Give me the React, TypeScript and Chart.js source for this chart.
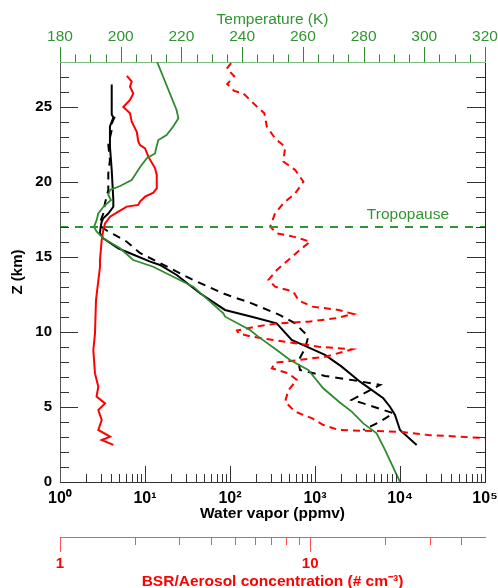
import { useEffect, useRef } from 'react';
import { Chart, registerables } from 'chart.js';

Chart.register(...registerables);

const FONT = "'Liberation Sans', Arial, Helvetica, sans-serif";

// ---- axis ranges / tick labels ----
const Z_MIN = 0;
const Z_MAX = 28;
const WV_MIN = 1;
const WV_MAX = 1e5;
const T_MIN = 180;
const T_MAX = 320;
const BSR_MIN = 1;
const BSR_MAX = 50;
const SUPERSCRIPTS = ['⁰', '¹', '²', '³', '⁴', '⁵'];
const BSR_LABELS = [1, 10];
const TROPOPAUSE_KM = 17;

// ---- water vapor (solid black) ----
const wvSolidZ = [26.5, 24.5, 24.3, 23.7, 22.35, 20.8, 18.8, 18.35, 17.9, 17.58, 17.35, 17.0, 16.58, 16.24, 15.58, 15.25, 14.69, 14.47, 13.8, 12.58, 11.47, 11.02, 10.58, 9.47, 9.07, 8.47, 7.69, 6.69, 5.58, 5.02, 4.47, 3.47, 2.47];
const wvSolidPpmv = [4.06, 4.06, 4.24, 3.87, 3.87, 4.06, 4.24, 4.24, 3.7, 3.23, 3.09, 3.01, 2.95, 3.23, 4.85, 6.66, 11.5, 15.0, 23.6, 44.4, 87.3, 180, 354, 532, 763, 1312, 2060, 3385, 6360, 7620, 8730, 10000, 15700];

// ---- water vapor (dashed black) ----
const wvDashedZ = [24.35, 23.9, 23.47, 22.47, 21.47, 20.58, 19.47, 18.58, 17.9, 17.4, 17.0, 16.69, 16.47, 16.02, 15.27, 14.6, 13.47, 12.53, 11.91, 11.13, 10.58, 9.69, 8.91, 8.07, 7.47, 7.07, 6.73, 6.47, 5.47, 5.24, 4.58, 4.02, 3.47];
const wvDashedPpmv = [4.4, 4.06, 4.06, 3.7, 3.87, 3.7, 3.7, 3.38, 3.23, 3.0, 3.1, 3.7, 4.4, 6.1, 8.7, 15, 36.7, 87, 180, 387, 582, 834, 763, 636, 666, 1312, 3230, 5820, 2700, 3700, 8340, 5820, 3700];

// ---- temperature (green) ----
const tempZ = [28.0, 24.8, 24.25, 23.7, 23.13, 22.8, 22.35, 21.9, 21.58, 21.0, 20.47, 20.13, 19.73, 19.47, 19.13, 18.8, 18.35, 17.9, 17.47, 17.0, 16.69, 16.24, 15.58, 14.8, 14.35, 13.02, 11.25, 11.02, 10.13, 9.69, 8.8, 8.13, 7.47, 6.25, 5.3, 4.69, 3.91, 3.24, 2.13, 0];
const tempK = [212.0, 218.4, 219.0, 217.3, 215.1, 212.4, 211.8, 211.3, 208.6, 206.4, 204.7, 203.6, 199.8, 196.5, 195.9, 196.8, 194.3, 192.6, 192.1, 191.2, 192.1, 194.3, 199.8, 204.1, 210.7, 223.9, 233.8, 234.4, 242.6, 245.3, 251.4, 255.8, 261.8, 266.7, 272.2, 276.1, 279.9, 284.3, 287.1, 292.0];

// ---- BSR (solid red) ----
const bsrZ = [27.07, 26.7, 26.35, 25.9, 25.47, 25.0, 24.58, 24.02, 23.35, 22.69, 22.47, 22.24, 21.69, 20.91, 20.47, 19.58, 19.29, 19.02, 18.69, 18.47, 18.36, 18.02, 17.69, 17.24, 16.8, 16.13, 14.8, 14.35, 12.13, 9.9, 8.8, 7.24, 6.35, 5.69, 5.24, 4.8, 4.13, 3.47, 3.02, 2.8, 2.47];
const bsrVal = [1.85, 1.935, 1.905, 1.964, 1.905, 1.791, 1.905, 1.935, 2.027, 2.057, 2.089, 2.188, 2.255, 2.399, 2.437, 2.437, 2.362, 2.188, 2.089, 2.057, 1.85, 1.711, 1.585, 1.514, 1.49, 1.468, 1.445, 1.445, 1.393, 1.38, 1.359, 1.38, 1.423, 1.40, 1.514, 1.423, 1.468, 1.423, 1.585, 1.468, 1.634];

// ---- aerosol concentration (dashed red) ----
const aeroZ = [27.93, 27.55, 27.07, 26.53, 26.07, 25.9, 25.13, 24.58, 23.69, 22.91, 22.35, 21.36, 20.8, 20.02, 19.24, 18.58, 17.91, 17.02, 16.58, 16.36, 16.02, 15.58, 14.91, 14.13, 13.47, 13.02, 12.69, 12.1, 11.69, 11.47, 11.2, 10.91, 10.69, 10.58, 10.35, 10.1, 9.91, 9.69, 9.35, 9.02, 8.84, 8.35, 8.13, 7.95, 7.58, 7.24, 6.8, 6.13, 5.35, 4.69, 4.24, 3.8, 3.47, 3.42, 3.35, 3.13, 2.93];
const aeroVal = [4.83, 4.64, 4.97, 4.66, 4.97, 5.41, 6.03, 6.56, 6.71, 7.24, 7.94, 7.82, 8.71, 9.4, 8.71, 7.82, 7.24, 6.92, 7.36, 8.57, 10.0, 9.26, 8.32, 7.36, 6.81, 7.24, 8.57, 9.0, 10.2, 13.0, 14.9, 12.6, 9.84, 7.47, 6.03, 5.1, 5.17, 5.84, 7.94, 10.8, 14.7, 11.5, 8.98, 7.24, 7.03, 8.19, 8.85, 8.19, 7.94, 8.71, 10.2, 11.3, 13.0, 16.1, 22.9, 29.7, 50.1];

const GREEN = '#2e8b2e';
const GREEN_TEXT = '#2f962f';
const RED = '#ff0000';

function pts(xs: number[], zs: number[]) {
  return zs.map((z, i) => ({ x: xs[i], y: z }));
}

const isDecade = (v: number) => {
  const l = Math.log10(v);
  return Math.abs(l - Math.round(l)) < 1e-9;
};

const decorPlugin = {
  id: 'decor',
  afterDraw(chart: any) {
    const { ctx, chartArea: a, scales } = chart;
    const ys = scales.y;
    const xs = scales.x;
    const xt = scales.xT;
    const xb = scales.xB;
    const seg = (x1: number, y1: number, x2: number, y2: number) => {
      ctx.moveTo(x1, y1);
      ctx.lineTo(x2, y2);
    };
    ctx.save();
    ctx.lineWidth = 1;

    // Z ticks, both sides, inward
    ctx.strokeStyle = '#333';
    ctx.beginPath();
    for (let z = Z_MIN + 1; z < Z_MAX; z++) {
      const p = Math.round(ys.getPixelForValue(z)) + 0.5;
      const len = z % 5 === 0 ? 18 : 9;
      seg(a.left, p, a.left + len, p);
      seg(a.right, p, a.right - len, p);
    }
    ctx.stroke();

    // water vapor ticks, inward
    ctx.beginPath();
    for (let d = 0; d < 5; d++) {
      for (let m = 1; m <= 9; m++) {
        if (d === 0 && m === 1) continue;
        const p = Math.round(xs.getPixelForValue(m * Math.pow(10, d))) + 0.5;
        seg(p, a.bottom, p, a.bottom - (m === 1 ? 16 : 8));
      }
    }
    ctx.stroke();

    // temperature ticks, outward (up)
    ctx.strokeStyle = GREEN;
    ctx.beginPath();
    for (let t = T_MIN; t <= T_MAX; t += 5) {
      const p = Math.round(xt.getPixelForValue(t)) + 0.5;
      seg(p, a.top, p, a.top - (t % 20 === 0 ? 15 : 7.5));
    }
    ctx.stroke();

    // BSR ticks, downward
    ctx.strokeStyle = '#ff5050';
    ctx.beginPath();
    const top = xb.top;
    const bsrTicks = [1, 2, 3, 4, 5, 6, 7, 8, 9, 10, 20, 30, 40];
    for (const v of bsrTicks) {
      const p = Math.round(xb.getPixelForValue(v)) + 0.5;
      seg(p, top, p, top + (v === 1 || v === 10 ? 15 : 8));
    }
    ctx.stroke();

    // Tropopause label
    ctx.fillStyle = GREEN_TEXT;
    ctx.font = `15.5px ${FONT}`;
    ctx.textAlign = 'center';
    ctx.textBaseline = 'alphabetic';
    ctx.fillText('Tropopause', xs.getPixelForValue(12400), ys.getPixelForValue(TROPOPAUSE_KM) - 8);
    ctx.restore();
  },
};

export default function App() {
  const ref = useRef<HTMLCanvasElement>(null);

  useEffect(() => {
    const canvas = ref.current;
    if (!canvas) return;
    const noGrid = { display: false, drawTicks: false };
    const chart = new Chart(canvas, {
      type: 'scatter',
      data: {
        datasets: [
          {
            label: 'Tropopause',
            data: [{ x: WV_MIN, y: TROPOPAUSE_KM }, { x: WV_MAX, y: TROPOPAUSE_KM }],
            xAxisID: 'x',
            yAxisID: 'y',
            borderColor: GREEN_TEXT,
            borderWidth: 2,
            borderDash: [8, 7],
            showLine: true,
            pointRadius: 0,
          },
          {
            label: 'Temperature',
            data: pts(tempK, tempZ),
            xAxisID: 'xT',
            yAxisID: 'y',
            borderColor: GREEN,
            borderWidth: 1.8,
            showLine: true,
            pointRadius: 0,
          },
          {
            label: 'BSR',
            data: pts(bsrVal, bsrZ),
            xAxisID: 'xB',
            yAxisID: 'y',
            borderColor: RED,
            borderWidth: 2,
            showLine: true,
            pointRadius: 0,
          },
          {
            label: 'Aerosol',
            data: pts(aeroVal, aeroZ),
            xAxisID: 'xB',
            yAxisID: 'y',
            borderColor: RED,
            borderWidth: 2,
            borderDash: [7, 5],
            showLine: true,
            pointRadius: 0,
          },
          {
            label: 'WV dashed',
            data: pts(wvDashedPpmv, wvDashedZ),
            xAxisID: 'x',
            yAxisID: 'y',
            borderColor: '#000',
            borderWidth: 2,
            borderDash: [8, 6],
            showLine: true,
            pointRadius: 0,
          },
          {
            label: 'WV',
            data: pts(wvSolidPpmv, wvSolidZ),
            xAxisID: 'x',
            yAxisID: 'y',
            borderColor: '#000',
            borderWidth: 2,
            showLine: true,
            pointRadius: 0,
          },
        ],
      },
      options: {
        responsive: false,
        animation: false,
        devicePixelRatio: 1,
        events: [],
        layout: { padding: { left: 0, right: 13, top: 0, bottom: 0 } },
        plugins: { legend: { display: false }, tooltip: { enabled: false } },
        scales: {
          y: {
            type: 'linear',
            position: 'left',
            min: Z_MIN,
            max: Z_MAX,
            grid: noGrid,
            border: { display: true, color: '#555', width: 1 },
            ticks: {
              stepSize: 5,
              includeBounds: false,
              padding: 8,
              color: '#000',
              font: { family: FONT, size: 15, weight: 'bold' },
            },
            title: {
              display: true,
              text: 'Z (km)',
              color: '#000',
              font: { family: FONT, size: 15, weight: 'bold' },
              padding: { top: 8.4, bottom: 0 },
            },
            afterFit: (s: any) => {
              s.width = 60;
              s.paddingTop = 0;
              s.paddingBottom = 0;
            },
          },
          yR: {
            type: 'linear',
            position: 'right',
            min: Z_MIN,
            max: Z_MAX,
            grid: noGrid,
            border: { display: true, color: '#222', width: 1 },
            ticks: { display: false },
            afterFit: (s: any) => {
              s.width = 0;
              s.paddingTop = 0;
              s.paddingBottom = 0;
            },
          },
          xT: {
            type: 'linear',
            position: 'top',
            min: T_MIN,
            max: T_MAX,
            grid: noGrid,
            border: { display: true, color: '#7dbf7d', width: 1 },
            ticks: {
              stepSize: 20,
              autoSkip: false,
              maxRotation: 0,
              minRotation: 0,
              padding: 15.6,
              color: GREEN_TEXT,
              font: { family: FONT, size: 15.5 },
            },
            title: {
              display: true,
              text: 'Temperature (K)',
              color: GREEN_TEXT,
              font: { family: FONT, size: 15.5 },
              padding: { top: 10.6, bottom: 0 },
            },
            afterFit: (s: any) => {
              s.height = 62;
              s.paddingLeft = 0;
              s.paddingRight = 0;
            },
          },
          x: {
            type: 'logarithmic',
            position: 'bottom',
            weight: 0,
            min: WV_MIN,
            max: WV_MAX,
            grid: noGrid,
            border: { display: true, color: '#333', width: 1 },
            ticks: {
              autoSkip: false,
              maxRotation: 0,
              minRotation: 0,
              padding: 7,
              color: '#000',
              font: { family: FONT, size: 16, weight: 'bold' },
              callback: (v: any) => (isDecade(Number(v)) ? '10' + SUPERSCRIPTS[Math.round(Math.log10(Number(v)))] : ''),
            },
            title: {
              display: true,
              text: 'Water vapor (ppmv)',
              color: '#000',
              font: { family: FONT, size: 15.5, weight: 'bold' },
              padding: { top: 0, bottom: 14 },
            },
            afterFit: (s: any) => {
              s.height = 55;
              s.paddingLeft = 0;
              s.paddingRight = 0;
            },
          },
          xB: {
            type: 'logarithmic',
            position: 'bottom',
            weight: 1,
            min: BSR_MIN,
            max: BSR_MAX,
            grid: noGrid,
            border: { display: true, color: '#ff5050', width: 1 },
            ticks: {
              autoSkip: false,
              maxRotation: 0,
              minRotation: 0,
              padding: 18,
              color: RED,
              font: { family: FONT, size: 15, weight: 'bold' },
              callback: (v: any) => (BSR_LABELS.includes(Number(v)) ? String(v) : ''),
            },
            title: {
              display: true,
              text: 'BSR/Aerosol concentration (# cm⁻³)',
              color: RED,
              font: { family: FONT, size: 15.5, weight: 'bold', lineHeight: 1 },
              padding: { top: 0, bottom: -1.3 },
            },
            afterFit: (s: any) => {
              s.height = 51;
              s.paddingLeft = 0;
              s.paddingRight = 0;
            },
          },
        },
      } as any,
      plugins: [decorPlugin],
    });
    return () => chart.destroy();
  }, []);

  return (
    <div style={{ position: 'fixed', left: 0, top: 0, width: 498, height: 588, background: '#fff' }}>
      <canvas ref={ref} width={498} height={588} style={{ display: 'block', width: 498, height: 588 }} />
    </div>
  );
}
